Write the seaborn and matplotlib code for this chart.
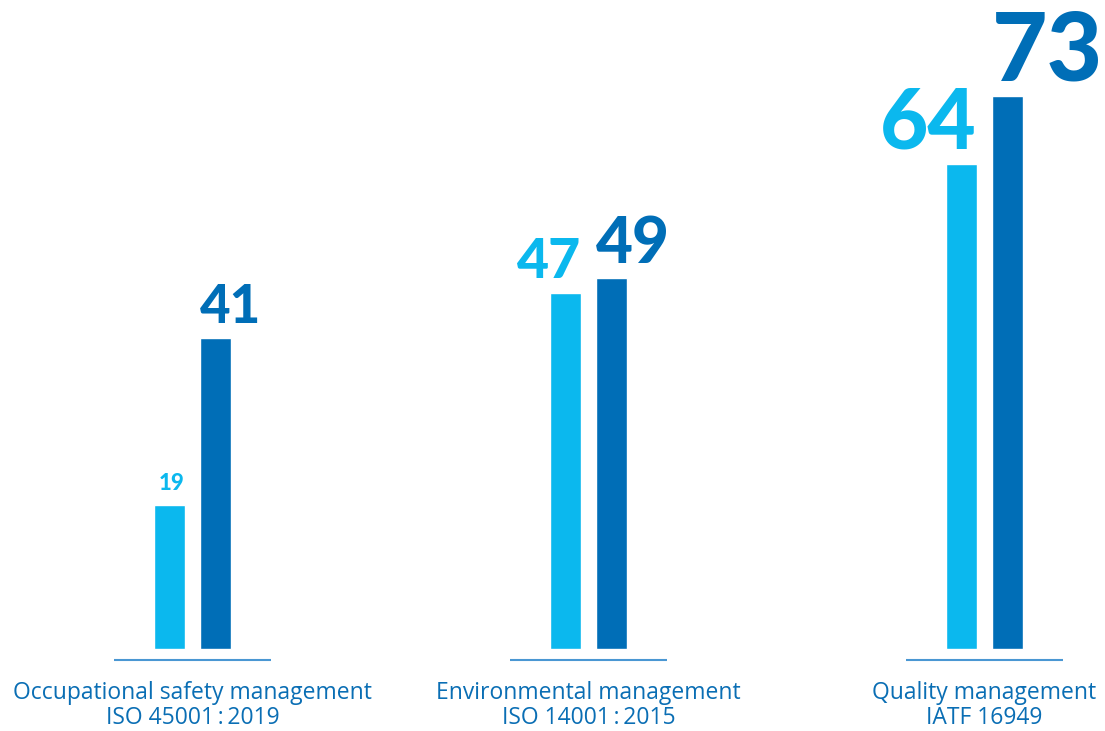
import matplotlib
matplotlib.use("Agg")
import matplotlib.pyplot as plt
import seaborn as sns
import pandas as pd

# Certified sites per management system, two reporting periods
categories = ["Occupational safety management", "Environmental management", "Quality management"]
standards = ["ISO 45001\u2009:\u20092019", "ISO 14001\u2009:\u20092015", "IATF 16949"]
periods = ["previous", "current"]
previous_sites = [19, 47, 64]
current_sites = [41, 49, 73]

# Value labels grow with the value they show (point sizes)
previous_label_pt = [16, 40, 60]
current_label_pt = [38, 46, 69]

LIGHT = "#0bb8ee"
DARK = "#006eb7"
RULE = "#4a97d3"
TEXT = "#0a6eb4"

df = pd.DataFrame({
    "category": categories * 2,
    "sites": previous_sites + current_sites,
    "period": [periods[0]] * 3 + [periods[1]] * 3,
})

sns.set_theme(style="white")
plt.rcParams["font.family"] = ["Lato", "DejaVu Sans"]

W, H, DPI = 1105, 731, 100
fig = plt.figure(figsize=(W / DPI, H / DPI), dpi=DPI)
ax = fig.add_axes([0, 0, 1, 1])

sns.barplot(data=df, x="category", y="sites", hue="period", order=categories,
            hue_order=periods, palette=[LIGHT, DARK], width=0.232, gap=0.33,
            legend=False, saturation=1, ax=ax)

# Pixel-based layout of the data space
px_per_unit_y = 7.58
base_px = 649
group_px = 396
first_center_px = 192.5
ax.set_ylim(-(H - base_px) / px_per_unit_y, base_px / px_per_unit_y)
ax.set_xlim(-first_center_px / group_px, (W - first_center_px) / group_px)
ax.axis("off")

# Value labels: light bars right-aligned to the bar edge, dark bars left-aligned
label_sizes = [previous_label_pt, current_label_pt]
values = [previous_sites, current_sites]
for k, container in enumerate(ax.containers):
    for i, bar in enumerate(container):
        x0 = bar.get_x()
        x1 = x0 + bar.get_width()
        if k == 0:
            xpos, ha = x1, "right"
        else:
            xpos, ha = x0, "left"
        ax.annotate(f"{values[k][i]}", xy=(xpos, values[k][i]), xytext=(0, 15),
                    textcoords="offset pixels", ha=ha, va="baseline",
                    fontsize=label_sizes[k][i], fontweight="black",
                    color=LIGHT if k == 0 else DARK)

# Rule under each group and the two-line category caption
caption_font = ["Open Sans", "DejaVu Sans"]
rule_y = -(660 - base_px) / px_per_unit_y
half_len = 78.5 / group_px
for i, (cat, std) in enumerate(zip(categories, standards)):
    ax.hlines(rule_y, i - half_len, i + half_len, color=RULE, linewidth=1.5)
    ax.text(i, -(699 - base_px) / px_per_unit_y, cat, ha="center", va="baseline",
            fontsize=16.5, color=TEXT, family=caption_font)
    ax.text(i, -(724 - base_px) / px_per_unit_y, std, ha="center", va="baseline",
            fontsize=16.5, color=TEXT, family=caption_font)

fig.savefig("out.png", dpi=DPI, facecolor="white")
